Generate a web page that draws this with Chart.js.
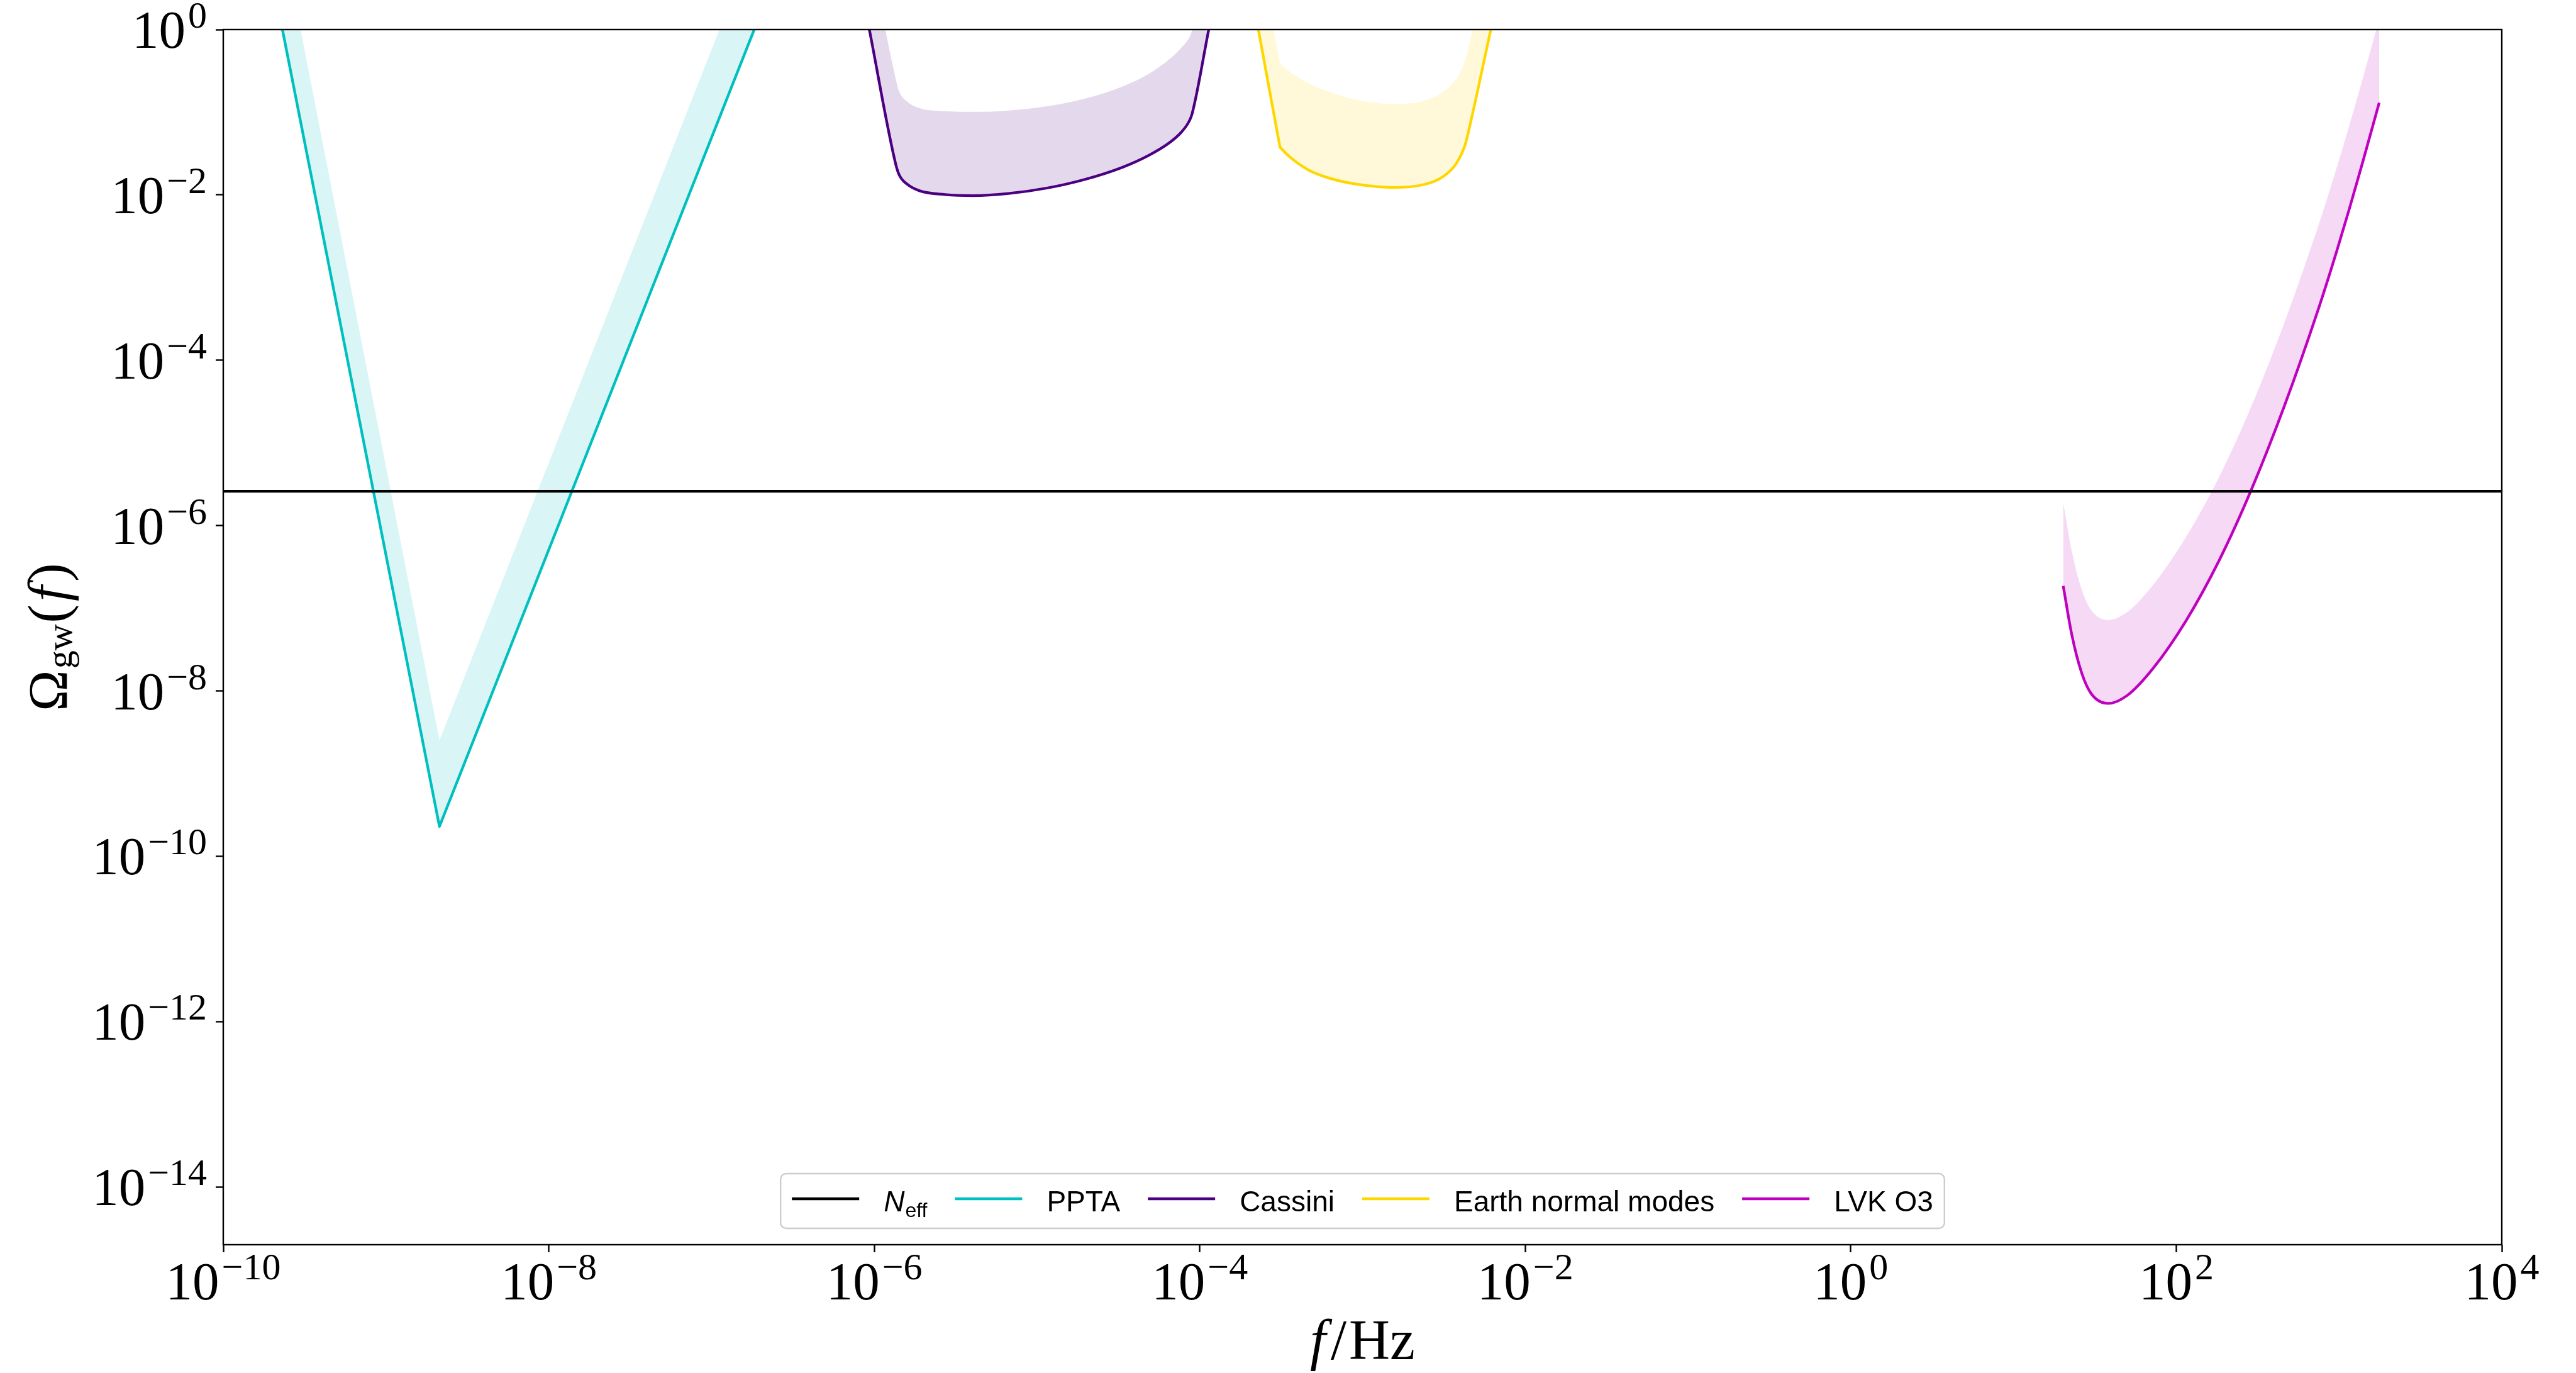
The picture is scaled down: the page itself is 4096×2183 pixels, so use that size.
<!DOCTYPE html>
<html>
<head>
<meta charset="utf-8">
<script src="https://cdn.jsdelivr.net/npm/chart.js@4.4.1/dist/chart.umd.min.js"></script>
<style>
  html, body { margin: 0; padding: 0; background: #fff; overflow: hidden; }
  canvas { display: block; }
</style>
</head>
<body>
<canvas id="gwChart" width="4096" height="2183" style="width:4096px;height:2183px"></canvas>
<script>
// axis limits and tick exponents (log axes)
const xLimits = [1e-10, 1e4];
const yLimits = [2e-15, 1];
const xTickExps = [-10, -8, -6, -4, -2, 0, 2, 4];
const yTickExps = [0, -2, -4, -6, -8, -10, -12, -14];

// N_eff bound
const nEffFreq = [1e-10, 1e4];
const nEffOmega = [2.6e-6, 2.6e-6];

// PPTA (solid line = lower edge, band upper edge)
const pptaFreq = [2.31e-10, 2.13e-9, 1.83e-7];
const pptaLower = [1, 2.29e-10, 1];
const pptaUpper = [13.2, 2.52e-9, 11.7];

// Cassini
const cassiniFreq = [9.33e-7, 1.35e-6, 1.42e-6, 1.59e-6, 1.90e-6, 2.72e-6, 4.04e-6, 6.68e-6, 1.15e-5,
                     1.97e-5, 3.37e-5, 4.83e-5, 6.44e-5, 7.73e-5, 8.59e-5, 8.97e-5, 1.135e-4];
const cassiniLower = [1, 0.0242, 0.0176, 0.0135, 0.0112, 0.0101, 0.0098, 0.0104, 0.0121,
                      0.0154, 0.0217, 0.0299, 0.0421, 0.0578, 0.0773, 0.0955, 1];
const cassiniUpper = [10, 0.261, 0.180, 0.135, 0.112, 0.103, 0.101, 0.105, 0.118,
                      0.146, 0.206, 0.290, 0.432, 0.608, 0.79, 0.98, 10];

// Earth normal modes (second point is the sharp corner)
const earthFreq = [2.29e-4, 3.11e-4, 3.56e-4, 4.66e-4, 6.10e-4, 9.12e-4, 1.56e-3, 2.33e-3, 3.14e-3,
                   3.78e-3, 4.28e-3, 4.57e-3, 6.14e-3];
const earthLower = [1, 0.0378, 0.0290, 0.0200, 0.0162, 0.0135, 0.0123, 0.0132, 0.0167,
                    0.0242, 0.0410, 0.0695, 1];
const earthUpper = [10, 0.388, 0.31, 0.224, 0.18, 0.142, 0.1265, 0.136, 0.178,
                    0.255, 0.43, 0.71, 10];

// LVK O3
const lvkFreq = [20.2, 22.8, 26.2, 30.1, 38.3, 50.0, 72.4, 115, 183, 290, 461, 732, 967, 1163, 1400, 1765];
const lvkLower = [1.86e-7, 4.79e-8, 1.66e-8, 9.18e-9, 7.06e-9, 8.83e-9, 1.90e-8, 7.11e-8, 3.76e-7,
                  2.75e-6, 2.78e-5, 3.71e-4, 2.08e-3, 7.03e-3, 2.52e-2, 0.1306];
const lvkUpper = [1.9e-6, 4.9e-7, 1.7e-7, 9.4e-8, 7.2e-8, 9.0e-8, 1.94e-7, 7.3e-7, 3.85e-6,
                  2.81e-5, 2.84e-4, 3.79e-3, 2.13e-2, 7.19e-2, 0.258, 1.34];

const legendLabels = ['N_eff', 'PPTA', 'Cassini', 'Earth normal modes', 'LVK O3'];

// styles
const colors = {
    neff: '#000000',
    ppta: '#00bfbf',
    cassini: '#4b0082',
    earth: '#ffd700',
    lvk: '#bf00bf'
};
const bands = {
    ppta: 'rgba(0,191,191,0.15)',
    cassini: 'rgba(75,0,130,0.15)',
    earth: 'rgba(255,215,0,0.15)',
    lvk: 'rgba(191,0,191,0.15)'
};
const legendColors = [colors.neff, colors.ppta, colors.cassini, colors.earth, colors.lvk];
const LW = 4.3;

const SERIF = '"Liberation Serif", "DejaVu Serif", serif';
const SANS = '"Liberation Sans", Arial, sans-serif';

function points(xs, ys) {
    return xs.map((x, i) => ({x: x, y: ys[i]}));
}

function line(label, xs, ys, color, extra) {
    return Object.assign({
        label: label,
        data: points(xs, ys),
        borderColor: color,
        backgroundColor: color,
        borderWidth: LW,
        borderJoinStyle: 'round',
        pointRadius: 0,
        pointHoverRadius: 0,
        fill: false,
        tension: 0
    }, extra || {});
}

function band(label, xs, ys, color, target, extra) {
    return Object.assign({
        label: label,
        data: points(xs, ys),
        borderWidth: 0,
        borderColor: 'rgba(0,0,0,0)',
        backgroundColor: color,
        pointRadius: 0,
        pointHoverRadius: 0,
        fill: target,
        tension: 0
    }, extra || {});
}

const smooth = {cubicInterpolationMode: 'monotone'};
const roundCap = {borderCapStyle: 'round'};
const smoothRound = {cubicInterpolationMode: 'monotone', borderCapStyle: 'round'};

// Earth curve: straight steep part up to the corner, smooth part after it
const earthSteepFreq = earthFreq.slice(0, 2);
const earthCurveFreq = earthFreq.slice(1);

const datasets = [
    line('N_eff', nEffFreq, nEffOmega, colors.neff),                                            // 0
    line('PPTA', pptaFreq, pptaLower, colors.ppta),                                             // 1
    band('PPTA band', pptaFreq, pptaUpper, bands.ppta, 1),                                      // 2
    line('Cassini', cassiniFreq, cassiniLower, colors.cassini, smooth),                         // 3
    band('Cassini band', cassiniFreq, cassiniUpper, bands.cassini, 3, smooth),                  // 4
    line('Earth normal modes', earthSteepFreq, earthLower.slice(0, 2), colors.earth, roundCap), // 5
    band('Earth band', earthSteepFreq, earthUpper.slice(0, 2), bands.earth, 5),                 // 6
    line('Earth normal modes', earthCurveFreq, earthLower.slice(1), colors.earth, smoothRound), // 7
    band('Earth band', earthCurveFreq, earthUpper.slice(1), bands.earth, 7, smooth),            // 8
    line('LVK O3', lvkFreq, lvkLower, colors.lvk, smooth),                                      // 9
    band('LVK band', lvkFreq, lvkUpper, bands.lvk, 9, smooth)                                   // 10
];

// "10" with a raised exponent
function drawPower(ctx, x, base, exp, align) {
    const e = exp < 0 ? '\u2212' + Math.abs(exp) : String(exp);
    ctx.font = '85px ' + SERIF;
    const w1 = ctx.measureText('10').width;
    ctx.font = '60px ' + SERIF;
    const w2 = ctx.measureText(e).width;
    const gap = 4;
    const total = w1 + gap + w2;
    const x0 = align === 'right' ? x - total : x - total / 2;
    ctx.font = '85px ' + SERIF;
    ctx.fillText('10', x0, base);
    ctx.font = '60px ' + SERIF;
    ctx.fillText(e, x0 + w1 + gap, base - 32);
}

// a row of text pieces with their own fonts / shifts
function drawRun(ctx, parts, x, y, align) {
    let total = 0;
    parts.forEach(p => {
        ctx.font = p.font;
        p.w = ctx.measureText(p.text).width;
        total += p.w + (p.pad || 0);
    });
    let cx = align === 'center' ? x - total / 2 : x;
    parts.forEach(p => {
        ctx.font = p.font;
        cx += (p.pad || 0);
        ctx.fillText(p.text, cx, y + (p.dy || 0));
        cx += p.w;
    });
    return total;
}

function measureRun(ctx, parts) {
    let total = 0;
    parts.forEach(p => {
        ctx.font = p.font;
        total += ctx.measureText(p.text).width + (p.pad || 0);
    });
    return total;
}

function legendParts(label) {
    if (label.indexOf('_') > 0) {
        const bits = label.split('_');
        return [
            {text: bits[0], font: 'italic 46px ' + SANS},
            {text: bits[1], font: '32px ' + SANS, dy: 9, pad: 1}
        ];
    }
    return [{text: label, font: '46px ' + SANS}];
}

const frameAndText = {
    id: 'frameAndText',
    afterDraw(chart) {
        const ctx = chart.ctx;
        const a = chart.chartArea;
        const xs = chart.scales.x;
        const ys = chart.scales.y;
        ctx.save();

        // axes frame
        ctx.strokeStyle = '#000';
        ctx.lineWidth = 2.4;
        ctx.strokeRect(a.left, a.top, a.right - a.left, a.bottom - a.top);

        ctx.fillStyle = '#000';
        ctx.textAlign = 'left';
        ctx.textBaseline = 'alphabetic';

        // tick labels
        yTickExps.forEach(e => {
            drawPower(ctx, a.left - 26, ys.getPixelForValue(Math.pow(10, e)) + 29, e, 'right');
        });
        xTickExps.forEach(e => {
            drawPower(ctx, xs.getPixelForValue(Math.pow(10, e)), a.bottom + 87, e, 'center');
        });

        // x title  f/Hz
        drawRun(ctx, [
            {text: 'f', font: 'italic 90px ' + SERIF},
            {text: '/', font: '90px ' + SERIF, pad: 8},
            {text: 'Hz', font: '90px ' + SERIF, pad: 4}
        ], (a.left + a.right) / 2, a.bottom + 182, 'center');

        // y title  Omega_gw(f)
        ctx.save();
        ctx.translate(a.left - 249, (a.top + a.bottom) / 2);
        ctx.rotate(-Math.PI / 2);
        drawRun(ctx, [
            {text: '\u03a9', font: '88px ' + SERIF},
            {text: 'gw', font: '58px ' + SERIF, dy: 8, pad: 2},
            {text: '(', font: '88px ' + SERIF, pad: 2},
            {text: 'f', font: 'italic 88px ' + SERIF, pad: 5},
            {text: ')', font: '88px ' + SERIF, pad: 7}
        ], 0, 0, 'center');
        ctx.restore();

        // legend
        const lineLen = 107, textGap = 39, itemGap = 44, padX = 18;
        const items = legendLabels.map((lab, i) => {
            const parts = legendParts(lab);
            return {parts: parts, color: legendColors[i], w: measureRun(ctx, parts)};
        });
        let total = 2 * padX + itemGap * (items.length - 1);
        items.forEach(it => { total += lineLen + textGap + it.w; });
        const boxL = (a.left + a.right) / 2 - total / 2;
        const boxT = a.bottom - 113;
        const boxH = 87;
        ctx.beginPath();
        if (ctx.roundRect) {
            ctx.roundRect(boxL, boxT, total, boxH, 9);
        } else {
            ctx.rect(boxL, boxT, total, boxH);
        }
        ctx.fillStyle = 'rgba(255,255,255,0.8)';
        ctx.fill();
        ctx.strokeStyle = '#cccccc';
        ctx.lineWidth = 2.4;
        ctx.stroke();

        let cx = boxL + padX;
        const lineY = a.bottom - 73;
        const textY = a.bottom - 53;
        items.forEach(it => {
            ctx.strokeStyle = it.color;
            ctx.lineWidth = LW;
            ctx.beginPath();
            ctx.moveTo(cx, lineY);
            ctx.lineTo(cx + lineLen, lineY);
            ctx.stroke();
            cx += lineLen + textGap;
            ctx.fillStyle = '#000';
            drawRun(ctx, it.parts, cx, textY, 'left');
            cx += it.w + itemGap;
        });

        ctx.restore();
    }
};

const tickGrid = {
    drawOnChartArea: false,
    drawTicks: true,
    tickLength: 12,
    tickWidth: 2.4,
    tickColor: '#000'
};

new Chart(document.getElementById('gwChart'), {
    type: 'line',
    data: {datasets: datasets},
    options: {
        responsive: false,
        animation: false,
        devicePixelRatio: 1,
        events: [],
        layout: {padding: {left: 355, right: 118, top: 47, bottom: 204}},
        elements: {line: {capBezierPoints: false}},
        scales: {
            x: {
                type: 'logarithmic',
                position: 'bottom',
                min: xLimits[0],
                max: xLimits[1],
                afterBuildTicks: s => { s.ticks = xTickExps.map(e => ({value: Math.pow(10, e)})); },
                afterFit: s => { s.height = 0; },
                ticks: {display: false},
                grid: tickGrid,
                border: {display: false}
            },
            y: {
                type: 'logarithmic',
                position: 'left',
                min: yLimits[0],
                max: yLimits[1],
                afterBuildTicks: s => { s.ticks = yTickExps.map(e => ({value: Math.pow(10, e)})); },
                afterFit: s => { s.width = 0; },
                ticks: {display: false},
                grid: tickGrid,
                border: {display: false}
            }
        },
        plugins: {
            legend: {display: false},
            tooltip: {enabled: false},
            filler: {drawTime: 'beforeDatasetsDraw'}
        }
    },
    plugins: [frameAndText]
});
</script>
</body>
</html>
